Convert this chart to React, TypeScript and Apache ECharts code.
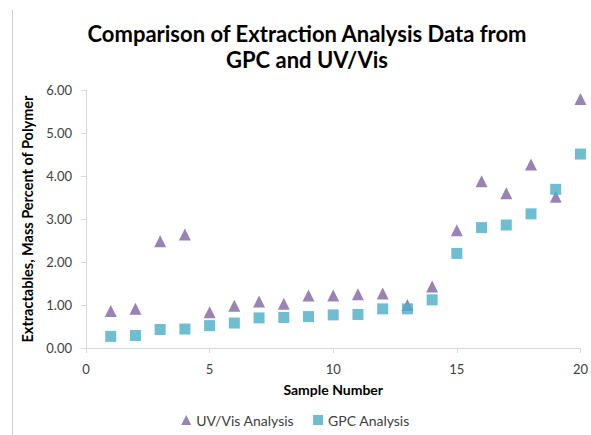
import React, { useEffect, useRef } from "react";
import * as echarts from "echarts";

const sampleNumbers = [1, 2, 3, 4, 5, 6, 7, 8, 9, 10, 11, 12, 13, 14, 15, 16, 17, 18, 19, 20];
const uvVisValues = [0.86, 0.91, 2.48, 2.64, 0.83, 0.98, 1.08, 1.03, 1.22, 1.22, 1.25, 1.27, 1.0, 1.43, 2.74, 3.88, 3.6, 4.27, 3.52, 5.79];
const gpcValues = [0.27, 0.29, 0.43, 0.44, 0.52, 0.58, 0.7, 0.71, 0.73, 0.77, 0.78, 0.91, 0.91, 1.12, 2.2, 2.8, 2.86, 3.12, 3.69, 4.51];

const FONT = "Lato, 'Open Sans', sans-serif";

export default function App() {
  const ref = useRef<HTMLDivElement>(null);
  useEffect(() => {
    if (!ref.current) return;
    const chart = echarts.init(ref.current, undefined, { renderer: "svg" });
    chart.setOption({
      animation: false,
      backgroundColor: "#ffffff",
      textStyle: { fontFamily: FONT },
      graphic: [
        {
          type: "line",
          shape: { x1: 12.5, y1: 10, x2: 12.5, y2: 435 },
          style: { stroke: "#d0d0d0", lineWidth: 1 },
        },
        {
          type: "text",
          x: 307,
          y: 20,
          style: {
            text: "Comparison of Extraction Analysis Data from\nGPC and UV/Vis",
            textAlign: "center",
            fontFamily: FONT,
            fontWeight: "bold",
            fontSize: 22,
            lineHeight: 26,
            fill: "#000000",
          },
        },
      ],
      grid: { left: 86, right: 6, top: 90, bottom: 87, containLabel: false },
      xAxis: {
        type: "value",
        min: 0,
        max: 20,
        interval: 5,
        name: "Sample Number",
        nameLocation: "middle",
        nameGap: 34,
        nameTextStyle: { fontFamily: FONT, fontWeight: "bold", fontSize: 14, color: "#000" },
        axisLine: { show: true, lineStyle: { color: "#d9d9d9" } },
        axisTick: { show: true, length: 5, lineStyle: { color: "#d9d9d9" } },
        axisLabel: { fontFamily: FONT, fontSize: 13, color: "#404040", margin: 14 },
        splitLine: { show: false },
      },
      yAxis: {
        type: "value",
        min: 0,
        max: 6,
        interval: 1,
        name: "Extractables, Mass Percent of Polymer",
        nameLocation: "middle",
        nameGap: 46,
        nameTextStyle: { fontFamily: FONT, fontWeight: "bold", fontSize: 14.5, color: "#000" },
        axisLine: { show: true, lineStyle: { color: "#d9d9d9" } },
        axisTick: { show: true, length: 5, lineStyle: { color: "#d9d9d9" } },
        axisLabel: {
          fontFamily: FONT,
          fontSize: 13,
          color: "#404040",
          margin: 14,
          formatter: (v: number) => v.toFixed(2),
        },
        splitLine: { show: false },
      },
      legend: {
        bottom: 3,
        left: "center",
        itemWidth: 10,
        itemHeight: 10,
        itemGap: 19,
        textStyle: { fontFamily: FONT, fontSize: 14, color: "#404040" },
        data: [
          { name: "UV/Vis Analysis", icon: "triangle" },
          { name: "GPC Analysis", icon: "rect" },
        ],
      },
      series: [
        {
          name: "UV/Vis Analysis",
          type: "scatter",
          symbol: "triangle",
          symbolSize: 12,
          itemStyle: { color: "#8064A2" },
          data: sampleNumbers.map((x, i) => [x, uvVisValues[i]]),
          z: 2,
        },
        {
          name: "GPC Analysis",
          type: "scatter",
          symbol: "rect",
          symbolSize: 11,
          itemStyle: { color: "#4BACC6" },
          data: sampleNumbers.map((x, i) => [x, gpcValues[i]]),
          z: 3,
        },
      ],
    });
    return () => chart.dispose();
  }, []);
  return (
    <div
      ref={ref}
      style={{ position: "fixed", left: 0, top: 0, width: 591, height: 435 }}
    />
  );
}
